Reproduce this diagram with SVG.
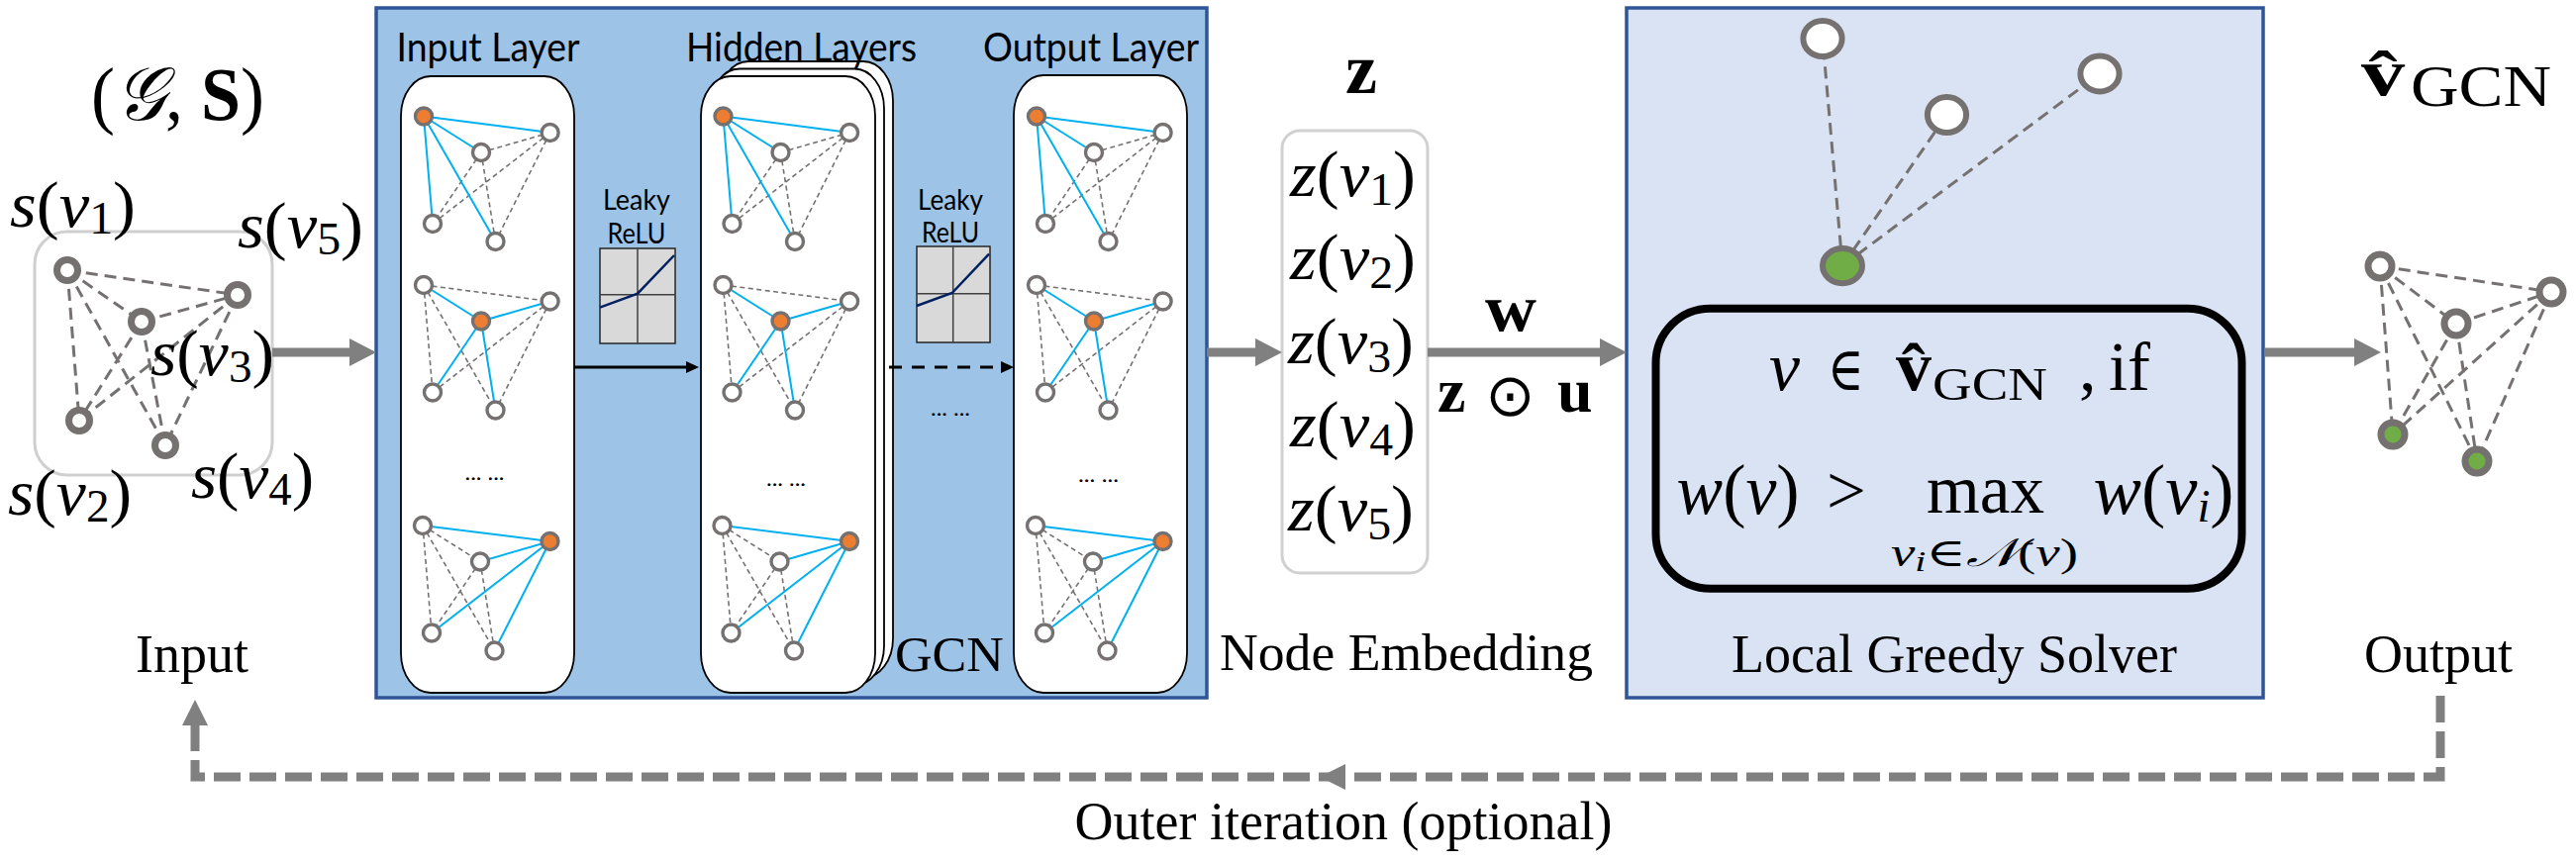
<svg xmlns="http://www.w3.org/2000/svg" width="2602" height="872" viewBox="0 0 2602 872">
<defs>
<style>
.m{font-family:"Liberation Serif","DejaVu Serif",serif;fill:#000}
.s66{font-size:66px}
.i{font-style:italic}
.b{font-weight:bold}
.sub{font-size:46px}
.lab{font-family:"Liberation Serif",serif;fill:#000}
.sans{font-family:Lato,"Liberation Sans",sans-serif;fill:#000}
.card{fill:#fff;stroke:#000;stroke-width:1.8}
.mn{fill:#fff;stroke:#767171;stroke-width:3.4}
.mo{fill:#ed7d31;stroke:#767171;stroke-width:3.4}
.be{stroke:#00b0f0;stroke-width:2;fill:none}
.de{stroke:#767171;stroke-width:1.6;stroke-dasharray:5 3.5;fill:none}
.bn{fill:#fff;stroke:#767171;stroke-width:7}
.gn{fill:#70ad47;stroke:#767171;stroke-width:7}
.bde{stroke:#767171;stroke-width:3;stroke-dasharray:12 7;fill:none}
.ga{stroke:#808080;stroke-width:9;fill:none}
.relu{fill:#d9d9d9;stroke:#262626;stroke-width:1.5}
.rl{stroke:#404040;stroke-width:1.5}
.rc{fill:none;stroke:#002060;stroke-width:2.5}
</style>
<marker id="gh" markerUnits="userSpaceOnUse" markerWidth="27" markerHeight="28" refX="0" refY="14" orient="auto" overflow="visible"><path d="M0,0 L27,14 L0,28 Z" fill="#808080"/></marker>
<marker id="bh" markerUnits="userSpaceOnUse" markerWidth="13" markerHeight="12" refX="0" refY="6" orient="auto" overflow="visible"><path d="M0,0 L13,6 L0,12 Z" fill="#000"/></marker>
<g id="gA">
<path class="de" d="M58,36.5L127.6,16.5 M58,36.5L9,108.5 M58,36.5L72.5,126.5 M127.6,16.5L9,108.5 M127.6,16.5L72.5,126.5"/>
<path class="be" d="M0,0L127.6,16.5 M0,0L58,36.5 M0,0L9,108.5 M0,0L72.5,126.5"/>
<circle class="mo" cx="0" cy="0" r="8.5"/><circle class="mn" cx="127.6" cy="16.5" r="8.5"/><circle class="mn" cx="58" cy="36.5" r="8.5"/><circle class="mn" cx="9" cy="108.5" r="8.5"/><circle class="mn" cx="72.5" cy="126.5" r="8.5"/>
</g>
<g id="gC">
<path class="de" d="M0,0L127.6,16.5 M0,0L9,108.5 M0,0L72.5,126.5 M127.6,16.5L9,108.5 M127.6,16.5L72.5,126.5"/>
<path class="be" d="M58,36.5L0,0 M58,36.5L127.6,16.5 M58,36.5L9,108.5 M58,36.5L72.5,126.5"/>
<circle class="mn" cx="0" cy="0" r="8.5"/><circle class="mn" cx="127.6" cy="16.5" r="8.5"/><circle class="mo" cx="58" cy="36.5" r="8.5"/><circle class="mn" cx="9" cy="108.5" r="8.5"/><circle class="mn" cx="72.5" cy="126.5" r="8.5"/>
</g>
<g id="gB">
<path class="de" d="M0,0L58,36.5 M0,0L9,108.5 M0,0L72.5,126.5 M58,36.5L9,108.5 M58,36.5L72.5,126.5"/>
<path class="be" d="M128.5,16L0,0 M128.5,16L58,36.5 M128.5,16L9,108.5 M128.5,16L72.5,126.5"/>
<circle class="mn" cx="0" cy="0" r="8.5"/><circle class="mo" cx="128.5" cy="16" r="8.5"/><circle class="mn" cx="58" cy="36.5" r="8.5"/><circle class="mn" cx="9" cy="108.5" r="8.5"/><circle class="mn" cx="72.5" cy="126.5" r="8.5"/>
</g>
</defs>

<g id="input">
<text class="m" x="92" y="121" style="font-size:76px" textLength="175" lengthAdjust="spacingAndGlyphs">(<tspan class="i">𝒢</tspan>, <tspan class="b">S</tspan>)</text>
<rect x="35" y="234" width="240" height="246" rx="33" fill="none" stroke="#cfcfcf" stroke-width="3"/>
<path class="bde" d="M68,273L240,298 M68,273L143,325 M68,273L80,425 M68,273L167,450 M143,325L240,298 M143,325L80,425 M143,325L167,450 M240,298L80,425 M240,298L167,450"/>
<circle class="bn" cx="68" cy="273" r="10.5"/><circle class="bn" cx="143" cy="325" r="10.5"/><circle class="bn" cx="240" cy="298" r="10.5"/><circle class="bn" cx="80" cy="425" r="10.5"/><circle class="bn" cx="167" cy="450" r="10.5"/>
<text class="m s66" x="10" y="229" textLength="127" lengthAdjust="spacingAndGlyphs"><tspan class="i">s</tspan>(<tspan class="i">v</tspan><tspan class="sub" dy="7">1</tspan><tspan dy="-7">)</tspan></text>
<text class="m s66" x="240" y="250" textLength="127" lengthAdjust="spacingAndGlyphs"><tspan class="i">s</tspan>(<tspan class="i">v</tspan><tspan class="sub" dy="7">5</tspan><tspan dy="-7">)</tspan></text>
<text class="m s66" x="152" y="379" textLength="125" lengthAdjust="spacingAndGlyphs"><tspan class="i">s</tspan>(<tspan class="i">v</tspan><tspan class="sub" dy="7">3</tspan><tspan dy="-7">)</tspan></text>
<text class="m s66" x="8" y="520" textLength="125" lengthAdjust="spacingAndGlyphs"><tspan class="i">s</tspan>(<tspan class="i">v</tspan><tspan class="sub" dy="7">2</tspan><tspan dy="-7">)</tspan></text>
<text class="m s66" x="193" y="503" textLength="124" lengthAdjust="spacingAndGlyphs"><tspan class="i">s</tspan>(<tspan class="i">v</tspan><tspan class="sub" dy="7">4</tspan><tspan dy="-7">)</tspan></text>
<text class="lab" x="194" y="679" style="font-size:54px" text-anchor="middle">Input</text>
</g>

<g id="gcn">
<rect x="380" y="8" width="839" height="697" fill="#9dc3e6" stroke="#2f5597" stroke-width="3.5"/>
<rect class="card" x="405" y="77" width="175" height="623" rx="30" ry="40"/>
<rect class="card" x="726" y="62" width="176" height="623" rx="30" ry="40"/>
<rect class="card" x="717" y="69.5" width="176" height="623" rx="30" ry="40"/>
<rect class="card" x="708" y="77" width="176" height="623" rx="30" ry="40"/>
<rect class="card" x="1024" y="76" width="175" height="624" rx="30" ry="40"/>
<text class="sans" x="400.6" y="62" font-size="40" textLength="185" lengthAdjust="spacingAndGlyphs">Input Layer</text>
<text class="sans" x="693" y="62" font-size="40" textLength="233" lengthAdjust="spacingAndGlyphs">Hidden Layers</text>
<text class="sans" x="993" y="62" font-size="40" textLength="218" lengthAdjust="spacingAndGlyphs">Output Layer</text>
<use href="#gA" x="428" y="117.5"/><use href="#gC" x="428" y="288"/><use href="#gB" x="427" y="531"/>
<use href="#gA" x="730.5" y="117.5"/><use href="#gC" x="730.5" y="288"/><use href="#gB" x="729.5" y="531"/>
<use href="#gA" x="1047" y="117.5"/><use href="#gC" x="1047" y="288"/><use href="#gB" x="1046" y="531"/>
<text class="sans" x="469.5" y="485" font-size="22" textLength="40" lengthAdjust="spacingAndGlyphs">... ...</text>
<text class="sans" x="774" y="491" font-size="22" textLength="40" lengthAdjust="spacingAndGlyphs">... ...</text>
<text class="sans" x="1089" y="487" font-size="22" textLength="41" lengthAdjust="spacingAndGlyphs">... ...</text>
<text class="sans" x="940" y="420" font-size="22" textLength="40" lengthAdjust="spacingAndGlyphs">... ...</text>
<g id="relu1">
<text class="sans" x="643" y="212" font-size="29" text-anchor="middle" textLength="68" lengthAdjust="spacingAndGlyphs">Leaky</text>
<text class="sans" x="643" y="246" font-size="29" text-anchor="middle" textLength="59" lengthAdjust="spacingAndGlyphs">ReLU</text>
<rect class="relu" x="606" y="251" width="76" height="96"/>
<path class="rl" d="M644,251V347 M606,297.7H682"/>
<path class="rc" d="M606,310.7L644,296.7L681,258"/>
</g>
<g id="relu2">
<text class="sans" x="960" y="211.7" font-size="29" text-anchor="middle" textLength="66" lengthAdjust="spacingAndGlyphs">Leaky</text>
<text class="sans" x="960" y="245" font-size="29" text-anchor="middle" textLength="58" lengthAdjust="spacingAndGlyphs">ReLU</text>
<rect class="relu" x="926" y="249" width="74" height="97"/>
<path class="rl" d="M962.7,249V346 M926,296.7H1000"/>
<path class="rc" d="M926,309L961.7,296L999,256.7"/>
</g>
<text class="lab" x="904" y="678" style="font-size:51px" textLength="110" lengthAdjust="spacingAndGlyphs">GCN</text>
</g>

<g id="embedding">
<text class="m b" x="1359" y="94" style="font-size:72px">z</text>
<rect x="1295" y="132" width="147" height="447" rx="18" fill="#fff" stroke="#d0d0d0" stroke-width="3"/>
<text class="m s66" x="1303" y="197.5" textLength="127" lengthAdjust="spacingAndGlyphs"><tspan class="i">z</tspan>(<tspan class="i">v</tspan><tspan class="sub" dy="9">1</tspan><tspan dy="-9">)</tspan></text>
<text class="m s66" x="1303" y="282" textLength="127" lengthAdjust="spacingAndGlyphs"><tspan class="i">z</tspan>(<tspan class="i">v</tspan><tspan class="sub" dy="9">2</tspan><tspan dy="-9">)</tspan></text>
<text class="m s66" x="1301" y="366.5" textLength="127" lengthAdjust="spacingAndGlyphs"><tspan class="i">z</tspan>(<tspan class="i">v</tspan><tspan class="sub" dy="9">3</tspan><tspan dy="-9">)</tspan></text>
<text class="m s66" x="1303" y="451" textLength="127" lengthAdjust="spacingAndGlyphs"><tspan class="i">z</tspan>(<tspan class="i">v</tspan><tspan class="sub" dy="9">4</tspan><tspan dy="-9">)</tspan></text>
<text class="m s66" x="1301" y="535.5" textLength="127" lengthAdjust="spacingAndGlyphs"><tspan class="i">z</tspan>(<tspan class="i">v</tspan><tspan class="sub" dy="9">5</tspan><tspan dy="-9">)</tspan></text>
<text class="lab" x="1232" y="677" style="font-size:53px" textLength="377" lengthAdjust="spacingAndGlyphs">Node Embedding</text>
</g>

<g id="weights">
<text class="m b" x="1500" y="334" style="font-size:68px" textLength="52" lengthAdjust="spacingAndGlyphs">w</text>
<text class="m b" x="1452" y="415.5" style="font-size:64px">z</text>
<text x="1525.5" y="420" font-family="DejaVu Sans,sans-serif" font-size="60" text-anchor="middle">⊙</text>
<text class="m b" x="1573" y="415.5" style="font-size:64px">u</text>
</g>

<g id="solver">
<rect x="1643" y="8" width="643" height="697" fill="#dae3f3" stroke="#2f5597" stroke-width="3.5"/>
<path class="bde" d="M1861,268.6L1841,39 M1861,268.6L1966.5,116 M1861,268.6L2121,74.4"/>
<ellipse cx="1841" cy="39" rx="19.6" ry="18" fill="#fff" stroke="#767171" stroke-width="6"/>
<ellipse cx="1966.5" cy="116" rx="19.6" ry="18" fill="#fff" stroke="#767171" stroke-width="6"/>
<ellipse cx="2121" cy="74.4" rx="19.6" ry="18" fill="#fff" stroke="#767171" stroke-width="6"/>
<ellipse cx="1861" cy="268.6" rx="20" ry="17.6" fill="#70ad47" stroke="#767171" stroke-width="6"/>
<rect x="1672.5" y="311.7" width="592" height="283" rx="55" fill="none" stroke="#000" stroke-width="8"/>
<text class="m i" x="1787" y="394" style="font-size:70px">v</text>
<text class="m" x="1846" y="394" style="font-size:62px" textLength="37" lengthAdjust="spacingAndGlyphs">∈</text>
<text class="m b" x="1915" y="394" style="font-size:72px">v̂</text>
<text class="m" x="1952" y="404" style="font-size:46px" textLength="116" lengthAdjust="spacingAndGlyphs">GCN</text>
<text class="m" x="2100" y="394" style="font-size:70px">,</text>
<text class="m" x="2130" y="394" style="font-size:70px" textLength="42" lengthAdjust="spacingAndGlyphs">if</text>
<text class="m" x="1693.6" y="519" style="font-size:72px" textLength="124" lengthAdjust="spacingAndGlyphs"><tspan class="i">w</tspan>(<tspan class="i">v</tspan>)</text>
<text class="m" x="1845" y="519" style="font-size:70px" textLength="40" lengthAdjust="spacingAndGlyphs">&gt;</text>
<text class="m" x="1946" y="518" style="font-size:70px" textLength="119" lengthAdjust="spacingAndGlyphs">max</text>
<text class="m" x="2114.5" y="519" style="font-size:72px" textLength="142" lengthAdjust="spacingAndGlyphs"><tspan class="i">w</tspan>(<tspan class="i">v</tspan><tspan class="i" font-size="46" dy="8">i</tspan><tspan dy="-8">)</tspan></text>
<text class="m" x="1910" y="572" style="font-size:40px" textLength="189" lengthAdjust="spacingAndGlyphs"><tspan class="i">v</tspan><tspan class="i" font-size="29" dy="5">i</tspan><tspan dy="-5">∈</tspan><tspan class="i">𝒩</tspan>(<tspan class="i">v</tspan>)</text>
<text class="lab" x="1974" y="678.6" style="font-size:54px" text-anchor="middle">Local Greedy Solver</text>
</g>

<g id="output">
<text class="m b" transform="translate(2385 96) scale(1.3 1)" x="0" y="0" style="font-size:68px">v̂</text>
<text class="m" x="2435" y="107" style="font-size:60px" textLength="142" lengthAdjust="spacingAndGlyphs">GCN</text>
<path class="bde" d="M2404,269L2577,295 M2404,269L2481,327 M2404,269L2417,439 M2404,269L2502,466 M2481,327L2577,295 M2481,327L2417,439 M2481,327L2502,466 M2577,295L2417,439 M2577,295L2502,466"/>
<circle class="bn" cx="2404" cy="269" r="12"/><circle class="bn" cx="2481" cy="327" r="12"/><circle class="bn" cx="2577" cy="295" r="12"/>
<circle class="gn" cx="2417" cy="439" r="12"/><circle class="gn" cx="2502" cy="466" r="12"/>
<text class="lab" x="2463" y="679" style="font-size:54px" text-anchor="middle">Output</text>
</g>

<g id="connectors">
<line class="ga" x1="275" y1="356" x2="353" y2="356" marker-end="url(#gh)"/>
<line class="ga" x1="1219" y1="356" x2="1268" y2="356" marker-end="url(#gh)"/>
<line class="ga" x1="1442" y1="356" x2="1616" y2="356" marker-end="url(#gh)"/>
<line class="ga" x1="2287" y1="356" x2="2378" y2="356" marker-end="url(#gh)"/>
<line x1="580" y1="371" x2="693" y2="371" stroke="#000" stroke-width="3" marker-end="url(#bh)"/>
<line x1="898" y1="371" x2="1011" y2="371" stroke="#000" stroke-width="3" stroke-dasharray="13 10" marker-end="url(#bh)"/>
<path class="ga" d="M2465,703V785H197V733" stroke-dasharray="27 9"/>
<polygon points="184,733 210,733 197,707" fill="#808080"/>
<polygon points="1333,785 1359,772 1359,798" fill="#808080"/>
<text class="lab" x="1357" y="848" style="font-size:54px" text-anchor="middle">Outer iteration (optional)</text>
</g>
</svg>
